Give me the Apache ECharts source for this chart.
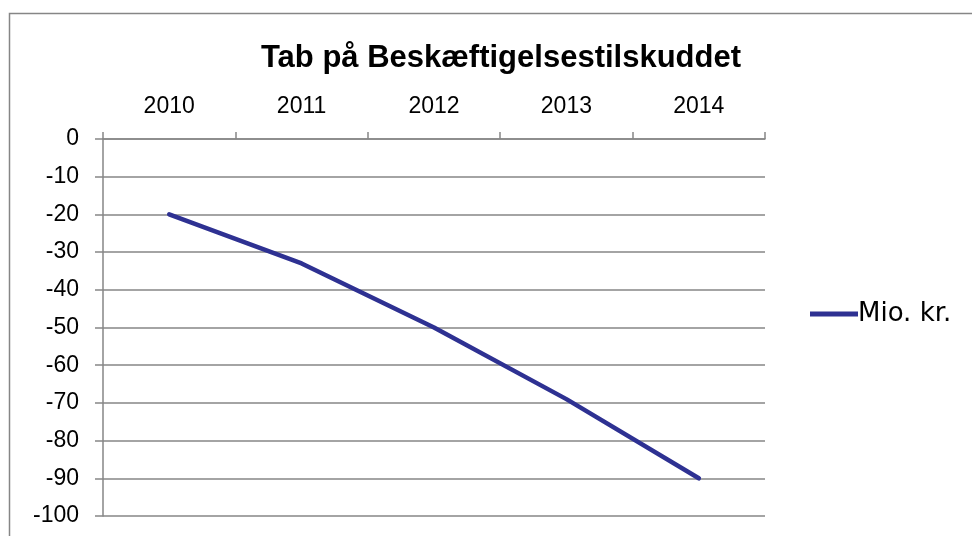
<!DOCTYPE html>
<html lang="da">
<head>
    <meta charset="UTF-8">
    <title>Tab på Beskæftigelsestilskuddet</title>
    <script src="https://cdn.jsdelivr.net/npm/echarts@6/dist/echarts.min.js"></script>
</head>
<body style="margin:0;background:#fff">
<div id="chart" style="width:972px;height:536px"></div>
<script>
    var years = ['2010', '2011', '2012', '2013', '2014'];
    var tab = [-20, -33, -50, -69, -90];
    var seriesName = 'Mio. kr.';

    var axisGray = '#868686';
    var lineBlue = '#2E3192';

    var _chart = echarts.init(document.getElementById('chart'));
    var option = {
        backgroundColor: '#fff',
        animation: false,
        textStyle: {fontFamily: 'Liberation Sans, Arial, sans-serif'},
        graphic: [{   // ydre ramme
            type: 'rect',
            shape: {x: 9.5, y: 13.5, width: 1100, height: 700},
            style: {fill: 'none', stroke: axisGray, lineWidth: 1.5}
        }],
        title: {
            text: 'Tab på Beskæftigelsestilskuddet',
            left: 496,
            textAlign: 'center',
            top: 38,
            textStyle: {fontSize: 31, fontWeight: 'bold', color: '#000', fontFamily: 'Liberation Sans'}
        },
        legend: {
            left: 805,
            top: 296,
            itemWidth: 48,
            itemHeight: 5,
            itemGap: 0,
            textStyle: {fontSize: 26, color: '#000', padding: [0, 0, 0, -5], fontFamily: 'DejaVu Sans'},
            data: [{name: seriesName, icon: 'path://M0,0 L48,0 L48,5 L0,5 Z'}]
        },
        grid: {left: 103, right: 207, top: 139, bottom: 20},
        xAxis: {
            type: 'category',
            position: 'top',
            data: years,
            boundaryGap: true,
            axisLine: {lineStyle: {color: axisGray, width: 1.5}},
            axisTick: {show: true, length: 7, inside: false, lineStyle: {color: axisGray, width: 1.5}},
            axisLabel: {fontSize: 23, color: '#000', margin: 21},
            splitLine: {show: false}
        },
        yAxis: {
            type: 'value',
            min: -100,
            max: 0,
            interval: 10,
            axisLine: {show: true, lineStyle: {color: axisGray, width: 1.5}},
            axisTick: {show: true, length: 8, lineStyle: {color: axisGray, width: 1.5}},
            axisLabel: {fontSize: 23, color: '#000', margin: 24},
            splitLine: {show: true, lineStyle: {color: axisGray, width: 1.5}}
        },
        series: [{
            name: seriesName,
            type: 'line',
            data: tab,
            symbol: 'none',
            lineStyle: {color: lineBlue, width: 4.5, cap: 'round', join: 'round'},
            itemStyle: {color: lineBlue}
        }]
    };
    _chart.setOption(option, true);
</script>
</body>
</html>
